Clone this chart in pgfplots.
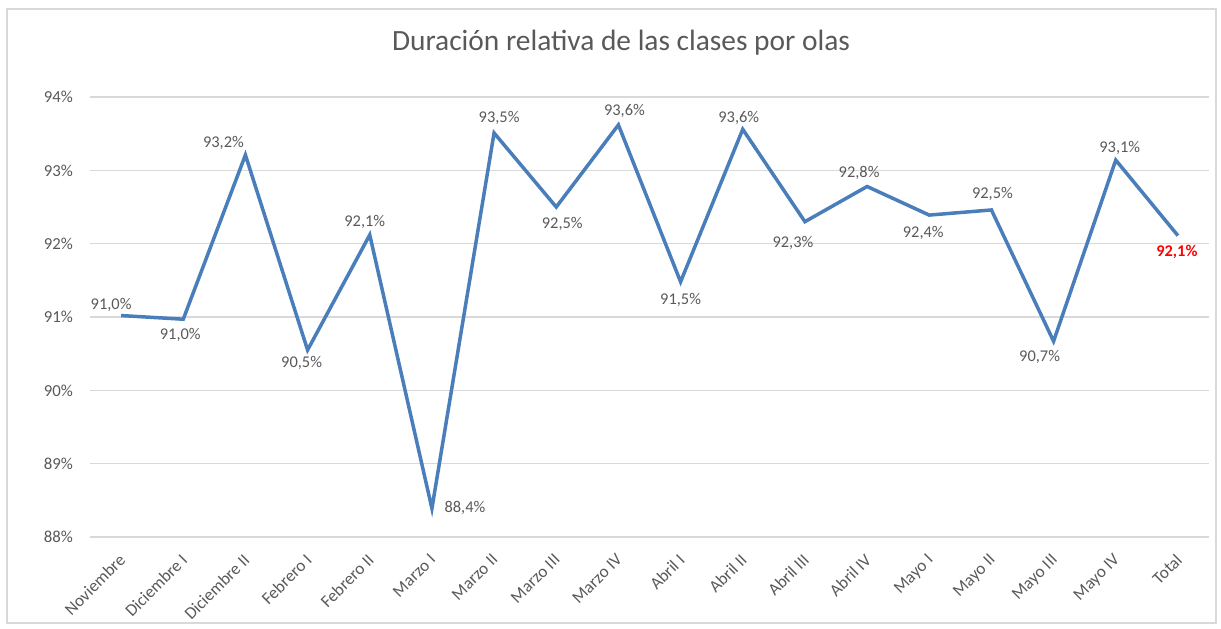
\documentclass[border=0pt]{standalone}
\usepackage{pgfplots}
\pgfplotsset{compat=1.18}
\usepackage{pgfplotstable}
\usepackage{fontspec}
\setmainfont{Carlito}

\definecolor{linea}{HTML}{4A7EBB}
\definecolor{texto}{HTML}{595959}
\definecolor{rejilla}{HTML}{D9D9D9}

% x  valor  etiqueta  desplazamiento de la etiqueta (pt)
\pgfplotstableread{
x  y      lab   dx    dy
0  91.02  91,0  -5    5.5
1  90.97  91,0  -1.5  -8
2  93.21  93,2  -11   6
3  90.55  90,5  -3    -6.5
4  92.12  92,1  -2.5  6.5
5  88.39  88,4  16.5  0
6  93.51  93,5  2.5   7.5
7  92.50  92,5  3     -8.5
8  93.62  93,6  3     7
9  91.48  91,5  0     -9
10 93.56  93,6  -2    5.5
11 92.30  92,3  -6    -10.5
12 92.78  92,8  -4    7
13 92.39  92,4  -3    -9
14 92.46  92,5  0.5   8
15 90.67  90,7  -7    -8
16 93.14  93,1  2     6
}\datos

\begin{document}
\begin{tikzpicture}
\useasboundingbox (0,0) rectangle (610.5pt,-314pt);
\draw[rejilla, line width=0.75pt] (3.5pt,-4.5pt) rectangle (608pt,-311.5pt);
\node[text=texto, font=\fontsize{14.7}{17}\selectfont] at (310.5pt,-21.5pt)
  {Duración relativa de las clases por olas};
\begin{axis}[
  at={(45pt,-268.5pt)}, anchor=south west,
  scale only axis, width=559.5pt, height=220pt,
  xmin=-0.5, xmax=17.5, ymin=88, ymax=94,
  ytick={88,89,...,94},
  xtick={0,...,17},
  xticklabels={Noviembre,Diciembre I,Diciembre II,Febrero I,Febrero II,Marzo I,
    Marzo II,Marzo III,Marzo IV,Abril I,Abril II,Abril III,Abril IV,Mayo I,
    Mayo II,Mayo III,Mayo IV,Total},
  axis line style={draw=none},
  major tick length=0pt,
  ymajorgrids, grid style={rejilla, line width=0.75pt},
  yticklabel={\pgfmathprintnumber{\tick}\%},
  /pgf/number format/assume math mode=true,
  ticklabel style={text=texto},
  yticklabel style={font=\fontsize{8.4}{10}\selectfont, xshift=-5pt},
  xticklabel style={font=\fontsize{8.6}{10}\selectfont,
    xshift=-1.6pt, yshift=-6.3pt, rotate=45, anchor=north east, inner sep=1pt},
  clip=false,
]
\addplot[linea, line width=1.75pt, mark=none] table[x=x, y=y] {
x  y
0  91.02
1  90.97
2  93.21
3  90.55
4  92.12
5  88.39
6  93.51
7  92.50
8  93.62
9  91.48
10 93.56
11 92.30
12 92.78
13 92.39
14 92.46
15 90.67
16 93.14
17 92.11
};
\addplot[draw=none, mark=none,
  nodes near coords={\pgfplotspointmeta\%},
  point meta=explicit symbolic,
  visualization depends on={\thisrow{dx} \as \dx},
  visualization depends on={\thisrow{dy} \as \dy},
  every node near coord/.append style={anchor=center, inner sep=0pt,
    text=texto, font=\fontsize{8.2}{10}\selectfont,
    xshift=\dx pt, yshift=\dy pt}]
  table[x=x, y=y, meta=lab] {\datos};
\addplot[draw=none, mark=none,
  nodes near coords={\textbf{\pgfplotspointmeta\%}},
  point meta=explicit symbolic,
  every node near coord/.append style={anchor=center, inner sep=0pt,
    text=red, font=\fontsize{8.2}{10}\selectfont,
    xshift=-0.5pt, yshift=-8pt}]
  coordinates {(17,92.11) [92,1]};
\end{axis}
\end{tikzpicture}
\end{document}
